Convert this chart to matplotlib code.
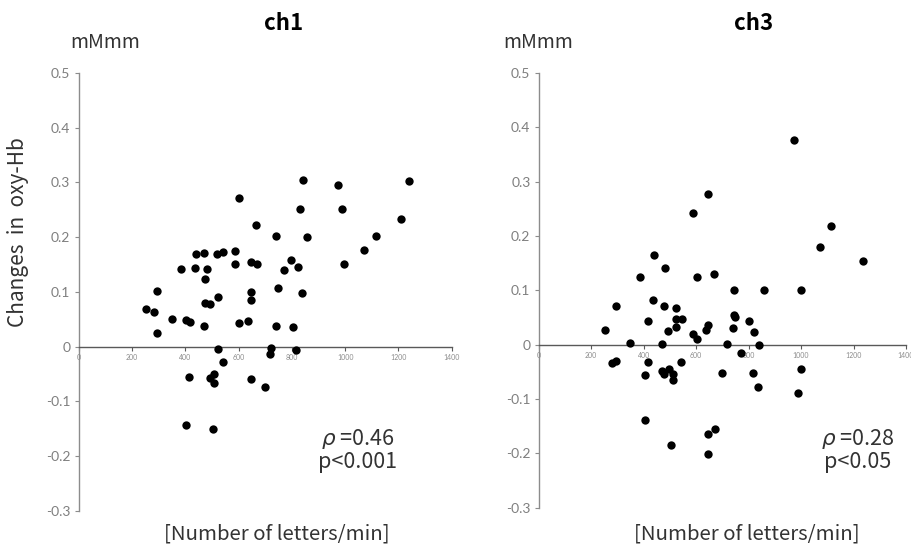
import matplotlib
matplotlib.use('Agg')
import matplotlib.pyplot as plt

plt.rcParams['font.family'] = ['Noto Sans CJK JP', 'DejaVu Sans']

# ch1: letters/min vs change in oxy-Hb
ch1_x = [842, 972, 1238, 603, 832, 988, 667, 1211, 742, 858, 1115, 1072,
         439, 470, 520, 542, 585, 645, 668, 585, 797, 823, 997, 385, 437,
         480, 771,
         473, 293, 645, 748, 838, 522, 645, 473, 494, 251, 281, 349, 404,
         417, 470, 602, 637, 742, 803, 293, 522, 721, 719, 814, 543, 509,
         492, 508, 413, 645, 698, 403, 503]
ch1_y = [0.305, 0.296, 0.302, 0.272, 0.251, 0.251, 0.223, 0.233, 0.203, 0.201,
         0.202, 0.177, 0.170, 0.171, 0.170, 0.173, 0.174, 0.155, 0.151, 0.151,
         0.158, 0.146, 0.151, 0.142, 0.144, 0.141, 0.140,
         0.123, 0.101, 0.099, 0.107, 0.098, 0.090, 0.085, 0.080, 0.077, 0.068,
         0.064, 0.050, 0.049, 0.044, 0.037, 0.043, 0.046, 0.037, 0.036, 0.025,
         -0.004, -0.002, -0.014, -0.007, -0.029, -0.050, -0.058, -0.066,
         -0.055, -0.059, -0.074, -0.143, -0.151]

# ch3
ch3_x = [972, 646, 587, 1116, 1071, 441, 482, 1236,
         385, 604, 669, 744, 859, 1000, 436, 476, 294, 522, 743, 749, 418,
         522, 545, 803, 252, 493, 522, 589, 604, 637, 646, 741, 822, 348,
         471, 719, 838, 771, 280, 295, 415, 544, 497, 471, 476, 510, 510,
         405, 699, 815, 834, 999, 990, 405, 671, 646, 504, 646]
ch3_y = [0.376, 0.278, 0.243, 0.219, 0.179, 0.165, 0.141, 0.155,
         0.124, 0.124, 0.130, 0.100, 0.100, 0.100, 0.082, 0.072, 0.072, 0.067,
         0.055, 0.051, 0.044, 0.048, 0.048, 0.043, 0.028, 0.025, 0.032, 0.019,
         0.010, 0.028, 0.036, 0.030, 0.023, 0.004, 0.001, 0.001, 0.000, -0.015,
         -0.034, -0.030, -0.031, -0.031, -0.044, -0.049, -0.054, -0.054,
         -0.065, -0.055, -0.052, -0.052, -0.077, -0.044, -0.088, -0.138,
         -0.155, -0.164, -0.185, -0.201]

x_ticks = [0, 200, 400, 600, 800, 1000, 1200, 1400]
y_ticks = [-0.3, -0.2, -0.1, 0, 0.1, 0.2, 0.3, 0.4, 0.5]
y_labels = ['-0.3', '-0.2', '-0.1', '0', '0.1', '0.2', '0.3', '0.4', '0.5']

fig = plt.figure(figsize=(9.12, 5.44), dpi=100)
ax1 = fig.add_axes([0.0863, 0.0612, 0.409, 0.8046])
ax2 = fig.add_axes([0.5907, 0.0667, 0.4027, 0.799])


def style_axes(ax, xs, ys):
    ax.scatter(xs, ys, s=36, color='black', zorder=3, linewidths=0)
    ax.set_xlim(0, 1400)
    ax.set_ylim(-0.3, 0.5)
    ax.spines['top'].set_visible(False)
    ax.spines['right'].set_visible(False)
    ax.spines['bottom'].set_position(('data', 0))
    ax.spines['bottom'].set_color('#595959')
    ax.spines['left'].set_color('#8c8c8c')
    ax.spines['bottom'].set_linewidth(1.0)
    ax.spines['left'].set_linewidth(1.0)
    ax.set_xticks(x_ticks)
    ax.set_xticklabels([str(t) for t in x_ticks], fontsize=5, color='#8c8c8c',
                       family='Lato')
    ax.set_yticks(y_ticks)
    ax.set_yticklabels(y_labels, fontsize=10, color='#7f7f7f', family='Lato')
    ax.tick_params(axis='x', direction='out', length=3, pad=2,
                   color='#595959', width=0.8)
    ax.tick_params(axis='y', direction='out', length=3, pad=3,
                   color='#8c8c8c', width=0.8)
    ax.patch.set_alpha(0)


style_axes(ax1, ch1_x, ch1_y)
style_axes(ax2, ch3_x, ch3_y)

fig.text(0.3114, 0.9559, 'ch1', fontsize=16, fontweight='bold', ha='center', va='center')
fig.text(0.8264, 0.9559, 'ch3', fontsize=16, fontweight='bold', ha='center', va='center')
fig.text(0.1151, 0.921, 'mMmm', fontsize=14, color='#333333', ha='center', va='center')
fig.text(0.5899, 0.921, 'mMmm', fontsize=14, color='#333333', ha='center', va='center')
fig.text(0.0197, 0.5735, 'Changes  in  oxy-Hb', fontsize=15, color='#333333',
         rotation=90, ha='center', va='center')

fig.text(0.3032, 0.019, '[Number of letters/min]', fontsize=14.7, color='#333333',
         ha='center', va='center')
fig.text(0.819, 0.019, '[Number of letters/min]', fontsize=14.7, color='#333333',
         ha='center', va='center')

fig.text(0.3925, 0.1728, '$\\rho$ =0.46\np<0.001', fontsize=15.5, color='#333333',
         ha='center', va='center', multialignment='center', linespacing=1.05)
fig.text(0.9408, 0.1728, '$\\rho$ =0.28\np<0.05', fontsize=15.5, color='#333333',
         ha='center', va='center', multialignment='center', linespacing=1.05)

fig.savefig('out.png', dpi=100)
